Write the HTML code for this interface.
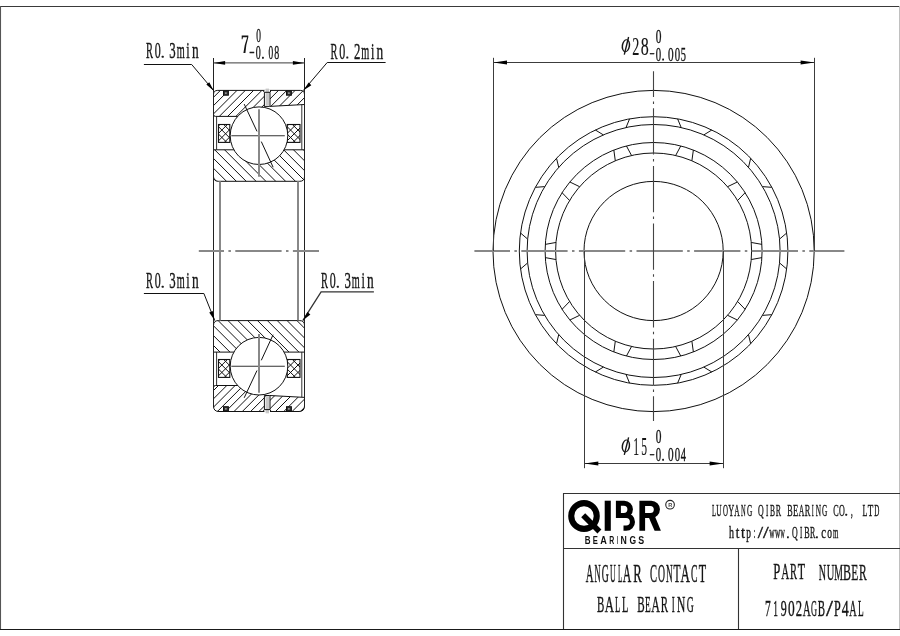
<!DOCTYPE html>
<html><head><meta charset="utf-8"><style>html,body{margin:0;padding:0;background:#fff;overflow:hidden}svg{display:block;will-change:transform}</style></head>
<body><svg width="900" height="636" viewBox="0 0 900 636">
<defs><clipPath id="cot"><path d="M213.5 94.60000000000001Q213.5 90.4 217.7 90.4H300.3Q304.5 90.4 304.5 94.60000000000001V104.5L269.8 106.4H264.4V116.4H215.5Q213.5 116.4 213.5 114.4Z"/></clipPath><clipPath id="cit"><path d="M213.5 149.8H304.5V176.5Q304.5 181.3 299.7 181.3H218.3Q213.5 181.3 213.5 176.5Z"/></clipPath><clipPath id="cgt218"><rect x="218.5" y="124.5" width="11.300000000000011" height="17.900000000000006"/></clipPath><clipPath id="cgt287"><rect x="287.2" y="124.5" width="12.800000000000011" height="17.900000000000006"/></clipPath><clipPath id="cob"><path d="M213.5 406.0Q213.5 411.5 219.0 411.5H299.0Q304.5 411.5 304.5 406.0V397.4L269.8 395.5H264.4V385.5H215.5Q213.5 385.5 213.5 387.5Z"/></clipPath><clipPath id="cib"><path d="M213.5 352.09999999999997H304.5V325.4Q304.5 320.59999999999997 299.7 320.59999999999997H218.3Q213.5 320.59999999999997 213.5 325.4Z"/></clipPath><clipPath id="cgb218"><rect x="218.5" y="359.5" width="11.300000000000011" height="17.899999999999977"/></clipPath><clipPath id="cgb287"><rect x="287.2" y="359.5" width="12.800000000000011" height="17.899999999999977"/></clipPath></defs>
<rect width="900" height="636" fill="#fff"/>
<line x1="0" y1="6.5" x2="900" y2="6.5" stroke="#3a3a3a" stroke-width="1.1"/>
<line x1="0.5" y1="6" x2="0.5" y2="630" stroke="#555" stroke-width="1.1"/>
<line x1="899.5" y1="6" x2="899.5" y2="630" stroke="#c0c0c0" stroke-width="1"/>
<line x1="0" y1="629.5" x2="900" y2="629.5" stroke="#1a1a1a" stroke-width="1.2"/>
<circle cx="653.6" cy="251.0" r="160.6" fill="none" stroke="#111" stroke-width="1"/>
<circle cx="653.6" cy="251.0" r="134.3" fill="none" stroke="#111" stroke-width="1"/>
<circle cx="653.6" cy="251.0" r="126.5" fill="none" stroke="#111" stroke-width="1"/>
<circle cx="653.6" cy="251.0" r="108.5" fill="none" stroke="#111" stroke-width="1"/>
<circle cx="653.6" cy="251.0" r="98.0" fill="none" stroke="#111" stroke-width="1"/>
<circle cx="653.6" cy="251.0" r="69.6" fill="none" stroke="#111" stroke-width="1"/>
<path d="M629.59 118.86L626.00 127.55M626.43 145.96L631.55 155.51M677.61 118.86L681.20 127.55M680.77 145.96L675.65 155.51M711.84 129.99L703.84 134.90M693.37 150.05L691.89 160.79M750.69 158.21L748.49 167.34M737.32 181.99L727.56 186.71M771.85 187.33L762.48 186.61M745.11 192.70L737.60 200.53M786.69 233.01L779.54 239.10M761.90 244.38L751.23 242.46M786.69 268.99L779.54 262.90M761.90 257.62L751.23 259.54M771.85 314.67L762.48 315.39M745.11 309.30L737.60 301.47M750.69 343.79L748.49 334.66M737.32 320.01L727.56 315.29M711.84 372.01L703.84 367.10M693.37 351.95L691.89 341.21M677.61 383.14L681.20 374.45M680.77 356.04L675.65 346.49M629.59 383.14L626.00 374.45M626.43 356.04L631.55 346.49M595.36 372.01L603.36 367.10M613.83 351.95L615.31 341.21M556.51 343.79L558.71 334.66M569.88 320.01L579.64 315.29M535.35 314.67L544.72 315.39M562.09 309.30L569.60 301.47M520.51 268.99L527.66 262.90M545.30 257.62L555.97 259.54M520.51 233.01L527.66 239.10M545.30 244.38L555.97 242.46M535.35 187.33L544.72 186.61M562.09 192.70L569.60 200.53M556.51 158.21L558.71 167.34M569.88 181.99L579.64 186.71M595.36 129.99L603.36 134.90M613.83 150.05L615.31 160.79" fill="none" stroke="#111" stroke-width="1"/>
<line x1="474.4" y1="251" x2="844.4" y2="251" stroke="#888" stroke-width="2" stroke-dasharray="46.3 4.4 2.5 4.4" stroke-dashoffset="10.7"/>
<line x1="653.5" y1="71.3" x2="653.5" y2="421" stroke="#444" stroke-width="1.1" stroke-dasharray="46.3 4.4 2.5 4.4" stroke-dashoffset="20.6"/>
<path d="M493.5 57.8V251M814.5 57.8V251M493.5 62.5H814.5" fill="none" stroke="#3c3c3c" stroke-width="1"/>
<path d="M493.50 62.50L507.00 64.40L507.00 60.60Z" fill="#000"/>
<path d="M814.50 62.50L800.60 60.60L800.60 64.40Z" fill="#000"/>
<path d="M584.5 251V468.2M723.5 251V468.2M584.5 463.5H723.5" fill="none" stroke="#3c3c3c" stroke-width="1"/>
<path d="M584.50 463.50L598.30 465.40L598.30 461.60Z" fill="#000"/>
<path d="M723.50 463.50L709.60 461.60L709.60 465.40Z" fill="#000"/>
<path d="M216.6 116.4V149.8M301.8 104.7V149.8" fill="none" stroke="#333" stroke-width="1"/>
<rect x="218.5" y="124.5" width="11.300000000000011" height="17.900000000000006" fill="#fff"/>
<path d="M192.70 144.40L214.60 122.50M200.10 144.40L222.00 122.50M207.50 144.40L229.40 122.50M214.90 144.40L236.80 122.50M222.30 144.40L244.20 122.50M229.70 144.40L251.60 122.50" clip-path="url(#cgt218)" fill="none" stroke="#111" stroke-width="1.0"/>
<path d="M192.10 122.50L214.00 144.40M199.50 122.50L221.40 144.40M206.90 122.50L228.80 144.40M214.30 122.50L236.20 144.40M221.70 122.50L243.60 144.40M229.10 122.50L251.00 144.40" clip-path="url(#cgt218)" fill="none" stroke="#111" stroke-width="1.0"/>
<rect x="218.5" y="124.5" width="11.300000000000011" height="17.900000000000006" fill="none" stroke="#111" stroke-width="1.1"/>
<rect x="287.2" y="124.5" width="12.800000000000011" height="17.900000000000006" fill="#fff"/>
<path d="M261.40 144.40L283.30 122.50M268.80 144.40L290.70 122.50M276.20 144.40L298.10 122.50M283.60 144.40L305.50 122.50M291.00 144.40L312.90 122.50M298.40 144.40L320.30 122.50" clip-path="url(#cgt287)" fill="none" stroke="#111" stroke-width="1.0"/>
<path d="M260.80 122.50L282.70 144.40M268.20 122.50L290.10 144.40M275.60 122.50L297.50 144.40M283.00 122.50L304.90 144.40M290.40 122.50L312.30 144.40M297.80 122.50L319.70 144.40M305.20 122.50L327.10 144.40" clip-path="url(#cgt287)" fill="none" stroke="#111" stroke-width="1.0"/>
<rect x="287.2" y="124.5" width="12.800000000000011" height="17.900000000000006" fill="none" stroke="#111" stroke-width="1.1"/>
<path d="M213.5 94.60000000000001Q213.5 90.4 217.7 90.4H300.3Q304.5 90.4 304.5 94.60000000000001V104.5L269.8 106.4H264.4V116.4H215.5Q213.5 116.4 213.5 114.4Z" fill="#fff"/>
<path d="M174.20 120.00L208.20 86.00M182.50 120.00L216.50 86.00M190.80 120.00L224.80 86.00M199.10 120.00L233.10 86.00M207.40 120.00L241.40 86.00M215.70 120.00L249.70 86.00M224.00 120.00L258.00 86.00M232.30 120.00L266.30 86.00M240.60 120.00L274.60 86.00M248.90 120.00L282.90 86.00M257.20 120.00L291.20 86.00M265.50 120.00L299.50 86.00M273.80 120.00L307.80 86.00M282.10 120.00L316.10 86.00M290.40 120.00L324.40 86.00M298.70 120.00L332.70 86.00M307.00 120.00L341.00 86.00" clip-path="url(#cot)" fill="none" stroke="#111" stroke-width="1.0"/>
<path d="M213.5 94.60000000000001Q213.5 90.4 217.7 90.4H300.3Q304.5 90.4 304.5 94.60000000000001V104.5L269.8 106.4H264.4V116.4H215.5Q213.5 116.4 213.5 114.4Z" fill="none" stroke="#111" stroke-width="1"/>
<path d="M213.5 149.8H304.5V176.5Q304.5 181.3 299.7 181.3H218.3Q213.5 181.3 213.5 176.5Z" fill="#fff"/>
<path d="M171.50 146.00L210.50 185.00M181.35 146.00L220.35 185.00M191.20 146.00L230.20 185.00M201.05 146.00L240.05 185.00M210.90 146.00L249.90 185.00M220.75 146.00L259.75 185.00M230.60 146.00L269.60 185.00M240.45 146.00L279.45 185.00M250.30 146.00L289.30 185.00M260.15 146.00L299.15 185.00M270.00 146.00L309.00 185.00M279.85 146.00L318.85 185.00M289.70 146.00L328.70 185.00M299.55 146.00L338.55 185.00M309.40 146.00L348.40 185.00" clip-path="url(#cit)" fill="none" stroke="#111" stroke-width="1.0"/>
<path d="M213.5 149.8H304.5V176.5Q304.5 181.3 299.7 181.3H218.3Q213.5 181.3 213.5 176.5Z" fill="none" stroke="#111" stroke-width="1"/>
<rect x="264.4" y="89.9" width="5.6" height="15.299999999999997" fill="#fff"/>
<rect x="265.6" y="88.6" width="3.4" height="17.10000000000001" fill="#c8c8c8"/>
<path d="M262.9 90.4L264.4 92.3H270L271.2 90.4M264.4 92.3V106M270 92.3V106" fill="none" stroke="#111" stroke-width="1"/>
<rect x="223.5" y="90.9" width="4.9" height="4.299999999999997" fill="#333" stroke="#111" stroke-width="1"/>
<circle cx="225.9" cy="93.05000000000001" r="0.9" fill="#aaa"/>
<rect x="286.5" y="90.9" width="4.9" height="4.299999999999997" fill="#333" stroke="#111" stroke-width="1"/>
<circle cx="288.9" cy="93.05000000000001" r="0.9" fill="#aaa"/>
<circle cx="259.0" cy="135.7" r="28.8" fill="#fff" stroke="#111" stroke-width="1"/>
<path d="M231.3 135.7H284.8" stroke="#333" stroke-width="1.1"/>
<path d="M259 109.2V176.8" stroke="#888" stroke-width="2"/>
<path d="M244.2 104.1L257 131.4M261.3 141.6L273.1 167.2" stroke="#111" stroke-width="1"/>
<path d="M216.6 385.5V352.09999999999997M301.8 397.2V352.09999999999997" fill="none" stroke="#333" stroke-width="1"/>
<rect x="218.5" y="359.5" width="11.300000000000011" height="17.899999999999977" fill="#fff"/>
<path d="M192.70 379.40L214.60 357.50M200.10 379.40L222.00 357.50M207.50 379.40L229.40 357.50M214.90 379.40L236.80 357.50M222.30 379.40L244.20 357.50M229.70 379.40L251.60 357.50" clip-path="url(#cgb218)" fill="none" stroke="#111" stroke-width="1.0"/>
<path d="M192.10 357.50L214.00 379.40M199.50 357.50L221.40 379.40M206.90 357.50L228.80 379.40M214.30 357.50L236.20 379.40M221.70 357.50L243.60 379.40M229.10 357.50L251.00 379.40" clip-path="url(#cgb218)" fill="none" stroke="#111" stroke-width="1.0"/>
<rect x="218.5" y="359.5" width="11.300000000000011" height="17.899999999999977" fill="none" stroke="#111" stroke-width="1.1"/>
<rect x="287.2" y="359.5" width="12.800000000000011" height="17.899999999999977" fill="#fff"/>
<path d="M261.40 379.40L283.30 357.50M268.80 379.40L290.70 357.50M276.20 379.40L298.10 357.50M283.60 379.40L305.50 357.50M291.00 379.40L312.90 357.50M298.40 379.40L320.30 357.50" clip-path="url(#cgb287)" fill="none" stroke="#111" stroke-width="1.0"/>
<path d="M260.80 357.50L282.70 379.40M268.20 357.50L290.10 379.40M275.60 357.50L297.50 379.40M283.00 357.50L304.90 379.40M290.40 357.50L312.30 379.40M297.80 357.50L319.70 379.40M305.20 357.50L327.10 379.40" clip-path="url(#cgb287)" fill="none" stroke="#111" stroke-width="1.0"/>
<rect x="287.2" y="359.5" width="12.800000000000011" height="17.899999999999977" fill="none" stroke="#111" stroke-width="1.1"/>
<path d="M213.5 406.0Q213.5 411.5 219.0 411.5H299.0Q304.5 411.5 304.5 406.0V397.4L269.8 395.5H264.4V385.5H215.5Q213.5 385.5 213.5 387.5Z" fill="#fff"/>
<path d="M179.80 415.90L213.80 381.90M188.10 415.90L222.10 381.90M196.40 415.90L230.40 381.90M204.70 415.90L238.70 381.90M213.00 415.90L247.00 381.90M221.30 415.90L255.30 381.90M229.60 415.90L263.60 381.90M237.90 415.90L271.90 381.90M246.20 415.90L280.20 381.90M254.50 415.90L288.50 381.90M262.80 415.90L296.80 381.90M271.10 415.90L305.10 381.90M279.40 415.90L313.40 381.90M287.70 415.90L321.70 381.90M296.00 415.90L330.00 381.90M304.30 415.90L338.30 381.90" clip-path="url(#cob)" fill="none" stroke="#111" stroke-width="1.0"/>
<path d="M213.5 406.0Q213.5 411.5 219.0 411.5H299.0Q304.5 411.5 304.5 406.0V397.4L269.8 395.5H264.4V385.5H215.5Q213.5 385.5 213.5 387.5Z" fill="none" stroke="#111" stroke-width="1"/>
<path d="M213.5 352.09999999999997H304.5V325.4Q304.5 320.59999999999997 299.7 320.59999999999997H218.3Q213.5 320.59999999999997 213.5 325.4Z" fill="#fff"/>
<path d="M175.05 316.90L214.05 355.90M184.90 316.90L223.90 355.90M194.75 316.90L233.75 355.90M204.60 316.90L243.60 355.90M214.45 316.90L253.45 355.90M224.30 316.90L263.30 355.90M234.15 316.90L273.15 355.90M244.00 316.90L283.00 355.90M253.85 316.90L292.85 355.90M263.70 316.90L302.70 355.90M273.55 316.90L312.55 355.90M283.40 316.90L322.40 355.90M293.25 316.90L332.25 355.90M303.10 316.90L342.10 355.90" clip-path="url(#cib)" fill="none" stroke="#111" stroke-width="1.0"/>
<path d="M213.5 352.09999999999997H304.5V325.4Q304.5 320.59999999999997 299.7 320.59999999999997H218.3Q213.5 320.59999999999997 213.5 325.4Z" fill="none" stroke="#111" stroke-width="1"/>
<rect x="264.4" y="396.7" width="5.6" height="15.300000000000011" fill="#fff"/>
<rect x="265.6" y="396.2" width="3.4" height="17.099999999999966" fill="#c8c8c8"/>
<path d="M262.9 411.5L264.4 409.59999999999997H270L271.2 411.5M264.4 409.59999999999997V395.9M270 409.59999999999997V395.9" fill="none" stroke="#111" stroke-width="1"/>
<rect x="223.5" y="406.7" width="4.9" height="4.300000000000011" fill="#333" stroke="#111" stroke-width="1"/>
<circle cx="225.9" cy="408.85" r="0.9" fill="#aaa"/>
<rect x="286.5" y="406.7" width="4.9" height="4.300000000000011" fill="#333" stroke="#111" stroke-width="1"/>
<circle cx="288.9" cy="408.85" r="0.9" fill="#aaa"/>
<circle cx="259.0" cy="366.2" r="28.8" fill="#fff" stroke="#111" stroke-width="1"/>
<path d="M231.3 366.2H284.8" stroke="#333" stroke-width="1.1"/>
<path d="M259 333.9V392.7" stroke="#888" stroke-width="2"/>
<path d="M244.2 397.79999999999995L257 370.5M261.3 360.29999999999995L273.1 334.7" stroke="#111" stroke-width="1"/>
<path d="M213.5 58V405.8M304.5 58V405.8" fill="none" stroke="#222" stroke-width="1"/>
<path d="M220 181.3V320.59999999999997M298 181.3V320.59999999999997" fill="none" stroke="#888" stroke-width="2"/>
<line x1="198.8" y1="251" x2="319" y2="251" stroke="#888" stroke-width="2" stroke-dasharray="46.3 4.4 2.5 4.4" stroke-dashoffset="21.1"/>
<path d="M213.5 62.9H304.5" stroke="#3c3c3c" stroke-width="1"/>
<path d="M213.50 62.90L225.10 64.80L225.10 61.00Z" fill="#000"/>
<path d="M304.50 62.90L292.90 61.00L292.90 64.80Z" fill="#000"/>
<path d="M143.9 64.5H191.7L213.9 90.9M385.6 62.5H327.2L303.3 90.6M143.9 293.5H203.9L214.7 320.6" fill="none" stroke="#111" stroke-width="1"/>
<path d="M373.9 291.9H321.1L302.8 320.6" fill="none" stroke="#333" stroke-width="1.3"/>
<path d="M213.90 90.90L209.27 82.20L206.33 84.60Z" fill="#000"/>
<path d="M303.30 90.60L311.34 85.24L308.66 82.56Z" fill="#000"/>
<path d="M214.70 320.60L212.75 310.97L209.25 312.43Z" fill="#000"/>
<path d="M302.80 320.60L310.36 314.52L307.44 312.08Z" fill="#000"/>
<path d="M563.5 629V493.5H900M563.5 548.5H900M738.5 548.5V629" fill="none" stroke="#333" stroke-width="1.1"/>
<text transform="translate(146.00 57.70) scale(0.437 1)" font-family="Liberation Serif" font-weight="normal" font-size="24.00" fill="#151515" stroke="#151515" stroke-width="0.4">R</text><text transform="translate(154.70 57.70) scale(0.500 1)" font-family="Liberation Serif" font-weight="normal" font-size="24.00" fill="#151515" stroke="#151515" stroke-width="0.4">0</text><rect x="161.70" y="55.70" width="2.00" height="2.0" rx="0.5" fill="#1a1a1a"/><text transform="translate(169.30 57.70) scale(0.533 1)" font-family="Liberation Serif" font-weight="normal" font-size="24.00" fill="#151515" stroke="#151515" stroke-width="0.4">3</text><text transform="translate(176.70 57.70) scale(0.428 1)" font-family="Liberation Serif" font-weight="normal" font-size="24.00" fill="#151515" stroke="#151515" stroke-width="0.4">m</text><text transform="translate(186.30 57.70) scale(0.510 1)" font-family="Liberation Serif" font-weight="normal" font-size="24.00" fill="#151515" stroke="#151515" stroke-width="0.4">i</text><text transform="translate(192.00 57.70) scale(0.558 1)" font-family="Liberation Serif" font-weight="normal" font-size="24.00" fill="#151515" stroke="#151515" stroke-width="0.4">n</text>
<text transform="translate(330.60 58.60) scale(0.437 1)" font-family="Liberation Serif" font-weight="normal" font-size="24.00" fill="#151515" stroke="#151515" stroke-width="0.4">R</text><text transform="translate(339.30 58.60) scale(0.500 1)" font-family="Liberation Serif" font-weight="normal" font-size="24.00" fill="#151515" stroke="#151515" stroke-width="0.4">0</text><rect x="346.30" y="56.60" width="2.00" height="2.0" rx="0.5" fill="#1a1a1a"/><text transform="translate(353.90 58.60) scale(0.533 1)" font-family="Liberation Serif" font-weight="normal" font-size="24.00" fill="#151515" stroke="#151515" stroke-width="0.4">2</text><text transform="translate(361.30 58.60) scale(0.428 1)" font-family="Liberation Serif" font-weight="normal" font-size="24.00" fill="#151515" stroke="#151515" stroke-width="0.4">m</text><text transform="translate(370.90 58.60) scale(0.510 1)" font-family="Liberation Serif" font-weight="normal" font-size="24.00" fill="#151515" stroke="#151515" stroke-width="0.4">i</text><text transform="translate(376.60 58.60) scale(0.558 1)" font-family="Liberation Serif" font-weight="normal" font-size="24.00" fill="#151515" stroke="#151515" stroke-width="0.4">n</text>
<text transform="translate(146.00 287.80) scale(0.437 1)" font-family="Liberation Serif" font-weight="normal" font-size="24.00" fill="#151515" stroke="#151515" stroke-width="0.4">R</text><text transform="translate(154.70 287.80) scale(0.500 1)" font-family="Liberation Serif" font-weight="normal" font-size="24.00" fill="#151515" stroke="#151515" stroke-width="0.4">0</text><rect x="161.70" y="285.80" width="2.00" height="2.0" rx="0.5" fill="#1a1a1a"/><text transform="translate(169.30 287.80) scale(0.533 1)" font-family="Liberation Serif" font-weight="normal" font-size="24.00" fill="#151515" stroke="#151515" stroke-width="0.4">3</text><text transform="translate(176.70 287.80) scale(0.428 1)" font-family="Liberation Serif" font-weight="normal" font-size="24.00" fill="#151515" stroke="#151515" stroke-width="0.4">m</text><text transform="translate(186.30 287.80) scale(0.510 1)" font-family="Liberation Serif" font-weight="normal" font-size="24.00" fill="#151515" stroke="#151515" stroke-width="0.4">i</text><text transform="translate(192.00 287.80) scale(0.558 1)" font-family="Liberation Serif" font-weight="normal" font-size="24.00" fill="#151515" stroke="#151515" stroke-width="0.4">n</text>
<text transform="translate(321.10 287.80) scale(0.437 1)" font-family="Liberation Serif" font-weight="normal" font-size="24.00" fill="#151515" stroke="#151515" stroke-width="0.4">R</text><text transform="translate(329.80 287.80) scale(0.500 1)" font-family="Liberation Serif" font-weight="normal" font-size="24.00" fill="#151515" stroke="#151515" stroke-width="0.4">0</text><rect x="336.80" y="285.80" width="2.00" height="2.0" rx="0.5" fill="#1a1a1a"/><text transform="translate(344.40 287.80) scale(0.533 1)" font-family="Liberation Serif" font-weight="normal" font-size="24.00" fill="#151515" stroke="#151515" stroke-width="0.4">3</text><text transform="translate(351.80 287.80) scale(0.428 1)" font-family="Liberation Serif" font-weight="normal" font-size="24.00" fill="#151515" stroke="#151515" stroke-width="0.4">m</text><text transform="translate(361.40 287.80) scale(0.510 1)" font-family="Liberation Serif" font-weight="normal" font-size="24.00" fill="#151515" stroke="#151515" stroke-width="0.4">i</text><text transform="translate(367.10 287.80) scale(0.558 1)" font-family="Liberation Serif" font-weight="normal" font-size="24.00" fill="#151515" stroke="#151515" stroke-width="0.4">n</text>
<path d="M241.7 35.5H248.3V37.2Q246.0 44 245.4 53H243.4Q244.4 44.5 247.2 37.3H242.9L242.5 39.2H241.7Z" fill="#151515"/>
<text transform="translate(256.30 41.60) scale(0.508 1)" font-family="Liberation Serif" font-weight="normal" font-size="18.50" fill="#151515" stroke="#151515" stroke-width="0.4">0</text>
<text transform="translate(249.30 59.20) scale(0.495 1)" font-family="Liberation Serif" font-weight="normal" font-size="19.00" fill="#151515" stroke="#151515" stroke-width="0.4">−</text>
<text transform="translate(255.70 58.80) scale(0.526 1)" font-family="Liberation Serif" font-weight="normal" font-size="19.00" fill="#151515" stroke="#151515" stroke-width="0.4">0</text><rect x="262.00" y="56.80" width="1.80" height="2.0" rx="0.5" fill="#1a1a1a"/><text transform="translate(268.50 58.80) scale(0.495 1)" font-family="Liberation Serif" font-weight="normal" font-size="19.00" fill="#151515" stroke="#151515" stroke-width="0.4">0</text><text transform="translate(274.30 58.80) scale(0.526 1)" font-family="Liberation Serif" font-weight="normal" font-size="19.00" fill="#151515" stroke="#151515" stroke-width="0.4">8</text>
<g transform="rotate(9 625.90 45.70)"><ellipse cx="625.90" cy="45.70" rx="4.25" ry="6.55" fill="#151515"/><ellipse cx="625.90" cy="45.70" rx="2.75" ry="5.6" fill="#fff"/></g>
<path d="M628.60 37.00L624.30 54.60" stroke="#151515" stroke-width="1.4"/>
<text transform="translate(632.30 54.60) scale(0.568 1)" font-family="Liberation Serif" font-weight="normal" font-size="25.00" fill="#151515" stroke="#151515" stroke-width="0.15">2</text><text transform="translate(640.80 54.60) scale(0.640 1)" font-family="Liberation Serif" font-weight="normal" font-size="25.00" fill="#151515" stroke="#151515" stroke-width="0.15">8</text>
<text transform="translate(655.80 43.00) scale(0.606 1)" font-family="Liberation Serif" font-weight="normal" font-size="18.80" fill="#151515" stroke="#151515" stroke-width="0.4">0</text>
<text transform="translate(649.50 60.30) scale(0.489 1)" font-family="Liberation Serif" font-weight="normal" font-size="18.50" fill="#151515" stroke="#151515" stroke-width="0.4">−</text>
<text transform="translate(655.80 60.50) scale(0.548 1)" font-family="Liberation Serif" font-weight="normal" font-size="19.70" fill="#151515" stroke="#151515" stroke-width="0.4">0</text><rect x="662.20" y="58.50" width="1.80" height="2.0" rx="0.5" fill="#1a1a1a"/><text transform="translate(668.00 60.50) scale(0.569 1)" font-family="Liberation Serif" font-weight="normal" font-size="19.70" fill="#151515" stroke="#151515" stroke-width="0.4">0</text><text transform="translate(674.80 60.50) scale(0.548 1)" font-family="Liberation Serif" font-weight="normal" font-size="19.70" fill="#151515" stroke="#151515" stroke-width="0.4">0</text><text transform="translate(680.70 60.50) scale(0.528 1)" font-family="Liberation Serif" font-weight="normal" font-size="19.70" fill="#151515" stroke="#151515" stroke-width="0.4">5</text>
<g transform="rotate(9 625.90 446.00)"><ellipse cx="625.90" cy="446.00" rx="4.25" ry="6.55" fill="#151515"/><ellipse cx="625.90" cy="446.00" rx="2.75" ry="5.6" fill="#fff"/></g>
<path d="M628.60 437.30L624.30 454.90" stroke="#151515" stroke-width="1.4"/>
<text transform="translate(633.20 454.90) scale(0.464 1)" font-family="Liberation Serif" font-weight="normal" font-size="25.00" fill="#151515" stroke="#151515" stroke-width="0.15">1</text><text transform="translate(641.20 454.90) scale(0.464 1)" font-family="Liberation Serif" font-weight="normal" font-size="25.00" fill="#151515" stroke="#151515" stroke-width="0.15">5</text>
<text transform="translate(655.80 443.30) scale(0.606 1)" font-family="Liberation Serif" font-weight="normal" font-size="18.80" fill="#151515" stroke="#151515" stroke-width="0.4">0</text>
<text transform="translate(649.50 460.60) scale(0.489 1)" font-family="Liberation Serif" font-weight="normal" font-size="18.50" fill="#151515" stroke="#151515" stroke-width="0.4">−</text>
<text transform="translate(655.80 460.80) scale(0.548 1)" font-family="Liberation Serif" font-weight="normal" font-size="19.70" fill="#151515" stroke="#151515" stroke-width="0.4">0</text><rect x="662.20" y="458.80" width="1.80" height="2.0" rx="0.5" fill="#1a1a1a"/><text transform="translate(668.00 460.80) scale(0.569 1)" font-family="Liberation Serif" font-weight="normal" font-size="19.70" fill="#151515" stroke="#151515" stroke-width="0.4">0</text><text transform="translate(674.80 460.80) scale(0.548 1)" font-family="Liberation Serif" font-weight="normal" font-size="19.70" fill="#151515" stroke="#151515" stroke-width="0.4">0</text><text transform="translate(680.70 460.80) scale(0.528 1)" font-family="Liberation Serif" font-weight="normal" font-size="19.70" fill="#151515" stroke="#151515" stroke-width="0.4">4</text>
<text transform="translate(712.00 515.80) scale(0.370 1)" font-family="Liberation Serif" font-weight="normal" font-size="17.70" fill="#151515" stroke="#151515" stroke-width="0.4">L</text><text transform="translate(716.30 515.80) scale(0.423 1)" font-family="Liberation Serif" font-weight="normal" font-size="17.70" fill="#151515" stroke="#151515" stroke-width="0.4">U</text><text transform="translate(723.00 515.80) scale(0.391 1)" font-family="Liberation Serif" font-weight="normal" font-size="17.70" fill="#151515" stroke="#151515" stroke-width="0.4">O</text><text transform="translate(728.30 515.80) scale(0.470 1)" font-family="Liberation Serif" font-weight="normal" font-size="17.70" fill="#151515" stroke="#151515" stroke-width="0.4">Y</text><text transform="translate(734.30 515.80) scale(0.423 1)" font-family="Liberation Serif" font-weight="normal" font-size="17.70" fill="#151515" stroke="#151515" stroke-width="0.4">A</text><text transform="translate(741.00 515.80) scale(0.368 1)" font-family="Liberation Serif" font-weight="normal" font-size="17.70" fill="#151515" stroke="#151515" stroke-width="0.4">N</text><text transform="translate(747.00 515.80) scale(0.415 1)" font-family="Liberation Serif" font-weight="normal" font-size="17.70" fill="#151515" stroke="#151515" stroke-width="0.4">G</text>
<text transform="translate(758.00 515.80) scale(0.446 1)" font-family="Liberation Serif" font-weight="normal" font-size="17.70" fill="#151515" stroke="#151515" stroke-width="0.4">Q</text><text transform="translate(766.00 515.80) scale(0.390 1)" font-family="Liberation Serif" font-weight="normal" font-size="17.70" fill="#151515" stroke="#151515" stroke-width="0.4">I</text><text transform="translate(770.00 515.80) scale(0.424 1)" font-family="Liberation Serif" font-weight="normal" font-size="17.70" fill="#151515" stroke="#151515" stroke-width="0.4">B</text><text transform="translate(775.70 515.80) scale(0.449 1)" font-family="Liberation Serif" font-weight="normal" font-size="17.70" fill="#151515" stroke="#151515" stroke-width="0.4">R</text>
<text transform="translate(787.30 515.80) scale(0.457 1)" font-family="Liberation Serif" font-weight="normal" font-size="17.70" fill="#151515" stroke="#151515" stroke-width="0.4">B</text><text transform="translate(793.00 515.80) scale(0.490 1)" font-family="Liberation Serif" font-weight="normal" font-size="17.70" fill="#151515" stroke="#151515" stroke-width="0.4">E</text><text transform="translate(798.70 515.80) scale(0.438 1)" font-family="Liberation Serif" font-weight="normal" font-size="17.70" fill="#151515" stroke="#151515" stroke-width="0.4">A</text><text transform="translate(804.70 515.80) scale(0.474 1)" font-family="Liberation Serif" font-weight="normal" font-size="17.70" fill="#151515" stroke="#151515" stroke-width="0.4">R</text><text transform="translate(811.70 515.80) scale(0.339 1)" font-family="Liberation Serif" font-weight="normal" font-size="17.70" fill="#151515" stroke="#151515" stroke-width="0.4">I</text><text transform="translate(815.70 515.80) scale(0.415 1)" font-family="Liberation Serif" font-weight="normal" font-size="17.70" fill="#151515" stroke="#151515" stroke-width="0.4">N</text><text transform="translate(822.00 515.80) scale(0.415 1)" font-family="Liberation Serif" font-weight="normal" font-size="17.70" fill="#151515" stroke="#151515" stroke-width="0.4">G</text>
<text transform="translate(833.30 515.80) scale(0.457 1)" font-family="Liberation Serif" font-weight="normal" font-size="17.70" fill="#151515" stroke="#151515" stroke-width="0.4">C</text><text transform="translate(838.90 515.80) scale(0.454 1)" font-family="Liberation Serif" font-weight="normal" font-size="17.70" fill="#151515" stroke="#151515" stroke-width="0.4">O</text><rect x="845.30" y="513.80" width="1.80" height="2.0" rx="0.5" fill="#1a1a1a"/><text transform="translate(851.00 515.80) scale(0.384 1)" font-family="Liberation Serif" font-weight="normal" font-size="17.70" fill="#151515" stroke="#151515" stroke-width="0.6">,</text>
<text transform="translate(862.40 515.80) scale(0.453 1)" font-family="Liberation Serif" font-weight="normal" font-size="17.70" fill="#151515" stroke="#151515" stroke-width="0.4">L</text><text transform="translate(867.80 515.80) scale(0.509 1)" font-family="Liberation Serif" font-weight="normal" font-size="17.70" fill="#151515" stroke="#151515" stroke-width="0.4">T</text><text transform="translate(874.20 515.80) scale(0.399 1)" font-family="Liberation Serif" font-weight="normal" font-size="17.70" fill="#151515" stroke="#151515" stroke-width="0.4">D</text>
<text transform="translate(729.00 538.30) scale(0.606 1)" font-family="Liberation Serif" font-weight="normal" font-size="16.50" fill="#151515" stroke="#151515" stroke-width="0.4">h</text><text transform="translate(735.70 538.30) scale(0.785 1)" font-family="Liberation Serif" font-weight="normal" font-size="16.50" fill="#151515" stroke="#151515" stroke-width="0.4">t</text><text transform="translate(741.00 538.30) scale(0.872 1)" font-family="Liberation Serif" font-weight="normal" font-size="16.50" fill="#151515" stroke="#151515" stroke-width="0.4">t</text><text transform="translate(746.30 538.30) scale(0.570 1)" font-family="Liberation Serif" font-weight="normal" font-size="16.50" fill="#151515" stroke="#151515" stroke-width="0.4">p</text><text transform="translate(753.70 538.30) scale(0.349 1)" font-family="Liberation Serif" font-weight="normal" font-size="16.50" fill="#151515" stroke="#151515" stroke-width="0.4">:</text><text transform="translate(757.70 538.30) scale(1.155 1)" font-family="Liberation Serif" font-weight="normal" font-size="16.50" fill="#151515" stroke="#151515" stroke-width="0.4">/</text><text transform="translate(763.00 538.30) scale(1.243 1)" font-family="Liberation Serif" font-weight="normal" font-size="16.50" fill="#151515" stroke="#151515" stroke-width="0.4">/</text><text transform="translate(769.30 538.30) scale(0.453 1)" font-family="Liberation Serif" font-weight="normal" font-size="16.50" fill="#151515" stroke="#151515" stroke-width="0.4">w</text><text transform="translate(775.00 538.30) scale(0.445 1)" font-family="Liberation Serif" font-weight="normal" font-size="16.50" fill="#151515" stroke="#151515" stroke-width="0.4">w</text><text transform="translate(780.50 538.30) scale(0.353 1)" font-family="Liberation Serif" font-weight="normal" font-size="16.50" fill="#151515" stroke="#151515" stroke-width="0.4">w</text><rect x="787.00" y="536.30" width="1.80" height="2.0" rx="0.5" fill="#1a1a1a"/><text transform="translate(792.00 538.30) scale(0.478 1)" font-family="Liberation Serif" font-weight="normal" font-size="16.50" fill="#151515" stroke="#151515" stroke-width="0.4">Q</text><text transform="translate(800.00 538.30) scale(0.419 1)" font-family="Liberation Serif" font-weight="normal" font-size="16.50" fill="#151515" stroke="#151515" stroke-width="0.4">I</text><text transform="translate(804.30 538.30) scale(0.491 1)" font-family="Liberation Serif" font-weight="normal" font-size="16.50" fill="#151515" stroke="#151515" stroke-width="0.4">B</text><text transform="translate(810.00 538.30) scale(0.482 1)" font-family="Liberation Serif" font-weight="normal" font-size="16.50" fill="#151515" stroke="#151515" stroke-width="0.4">R</text><rect x="816.00" y="536.30" width="1.80" height="2.0" rx="0.5" fill="#1a1a1a"/><text transform="translate(821.30 538.30) scale(0.642 1)" font-family="Liberation Serif" font-weight="normal" font-size="16.50" fill="#151515" stroke="#151515" stroke-width="0.4">c</text><text transform="translate(827.30 538.30) scale(0.570 1)" font-family="Liberation Serif" font-weight="normal" font-size="16.50" fill="#151515" stroke="#151515" stroke-width="0.4">o</text><text transform="translate(833.00 538.30) scale(0.413 1)" font-family="Liberation Serif" font-weight="normal" font-size="16.50" fill="#151515" stroke="#151515" stroke-width="0.4">m</text>
<text transform="translate(585.80 581.80) scale(0.443 1)" font-family="Liberation Serif" font-weight="normal" font-size="24.40" fill="#151515" stroke="#151515" stroke-width="0.4">A</text><text transform="translate(594.40 581.80) scale(0.352 1)" font-family="Liberation Serif" font-weight="normal" font-size="24.40" fill="#151515" stroke="#151515" stroke-width="0.4">N</text><text transform="translate(601.80 581.80) scale(0.397 1)" font-family="Liberation Serif" font-weight="normal" font-size="24.40" fill="#151515" stroke="#151515" stroke-width="0.4">G</text><text transform="translate(610.00 581.80) scale(0.329 1)" font-family="Liberation Serif" font-weight="normal" font-size="24.40" fill="#151515" stroke="#151515" stroke-width="0.4">U</text><text transform="translate(618.10 581.80) scale(0.288 1)" font-family="Liberation Serif" font-weight="normal" font-size="24.40" fill="#151515" stroke="#151515" stroke-width="0.4">L</text><text transform="translate(622.80 581.80) scale(0.482 1)" font-family="Liberation Serif" font-weight="normal" font-size="24.40" fill="#151515" stroke="#151515" stroke-width="0.4">A</text><text transform="translate(633.30 581.80) scale(0.522 1)" font-family="Liberation Serif" font-weight="normal" font-size="24.40" fill="#151515" stroke="#151515" stroke-width="0.4">R</text>
<text transform="translate(650.10 581.80) scale(0.430 1)" font-family="Liberation Serif" font-weight="normal" font-size="24.40" fill="#151515" stroke="#151515" stroke-width="0.4">C</text><text transform="translate(657.90 581.80) scale(0.397 1)" font-family="Liberation Serif" font-weight="normal" font-size="24.40" fill="#151515" stroke="#151515" stroke-width="0.4">O</text><text transform="translate(666.00 581.80) scale(0.380 1)" font-family="Liberation Serif" font-weight="normal" font-size="24.40" fill="#151515" stroke="#151515" stroke-width="0.4">N</text><text transform="translate(673.40 581.80) scale(0.470 1)" font-family="Liberation Serif" font-weight="normal" font-size="24.40" fill="#151515" stroke="#151515" stroke-width="0.4">T</text><text transform="translate(680.40 581.80) scale(0.534 1)" font-family="Liberation Serif" font-weight="normal" font-size="24.40" fill="#151515" stroke="#151515" stroke-width="0.4">A</text><text transform="translate(691.00 581.80) scale(0.399 1)" font-family="Liberation Serif" font-weight="normal" font-size="24.40" fill="#151515" stroke="#151515" stroke-width="0.4">C</text><text transform="translate(698.70 581.80) scale(0.496 1)" font-family="Liberation Serif" font-weight="normal" font-size="24.40" fill="#151515" stroke="#151515" stroke-width="0.4">T</text>
<text transform="translate(597.00 611.70) scale(0.456 1)" font-family="Liberation Serif" font-weight="normal" font-size="24.00" fill="#151515" stroke="#151515" stroke-width="0.4">B</text><text transform="translate(604.70 611.70) scale(0.537 1)" font-family="Liberation Serif" font-weight="normal" font-size="24.00" fill="#151515" stroke="#151515" stroke-width="0.4">A</text><text transform="translate(615.00 611.70) scale(0.361 1)" font-family="Liberation Serif" font-weight="normal" font-size="24.00" fill="#151515" stroke="#151515" stroke-width="0.4">L</text><text transform="translate(622.00 611.70) scale(0.430 1)" font-family="Liberation Serif" font-weight="normal" font-size="24.00" fill="#151515" stroke="#151515" stroke-width="0.4">L</text>
<text transform="translate(637.30 611.70) scale(0.462 1)" font-family="Liberation Serif" font-weight="normal" font-size="24.00" fill="#151515" stroke="#151515" stroke-width="0.4">B</text><text transform="translate(645.00 611.70) scale(0.389 1)" font-family="Liberation Serif" font-weight="normal" font-size="24.00" fill="#151515" stroke="#151515" stroke-width="0.4">E</text><text transform="translate(651.30 611.70) scale(0.502 1)" font-family="Liberation Serif" font-weight="normal" font-size="24.00" fill="#151515" stroke="#151515" stroke-width="0.4">A</text><text transform="translate(660.70 611.70) scale(0.456 1)" font-family="Liberation Serif" font-weight="normal" font-size="24.00" fill="#151515" stroke="#151515" stroke-width="0.4">R</text><text transform="translate(671.70 611.70) scale(0.375 1)" font-family="Liberation Serif" font-weight="normal" font-size="24.00" fill="#151515" stroke="#151515" stroke-width="0.4">I</text><text transform="translate(677.00 611.70) scale(0.479 1)" font-family="Liberation Serif" font-weight="normal" font-size="24.00" fill="#151515" stroke="#151515" stroke-width="0.4">N</text><text transform="translate(686.70 611.70) scale(0.404 1)" font-family="Liberation Serif" font-weight="normal" font-size="24.00" fill="#151515" stroke="#151515" stroke-width="0.4">G</text>
<text transform="translate(773.30 578.70) scale(0.536 1)" font-family="Liberation Serif" font-weight="normal" font-size="23.50" fill="#151515" stroke="#151515" stroke-width="0.4">P</text><text transform="translate(781.30 578.70) scale(0.472 1)" font-family="Liberation Serif" font-weight="normal" font-size="23.50" fill="#151515" stroke="#151515" stroke-width="0.4">A</text><text transform="translate(790.00 578.70) scale(0.447 1)" font-family="Liberation Serif" font-weight="normal" font-size="23.50" fill="#151515" stroke="#151515" stroke-width="0.4">R</text><text transform="translate(797.70 578.70) scale(0.508 1)" font-family="Liberation Serif" font-weight="normal" font-size="23.50" fill="#151515" stroke="#151515" stroke-width="0.4">T</text>
<text transform="translate(818.70 580.00) scale(0.421 1)" font-family="Liberation Serif" font-weight="normal" font-size="24.00" fill="#151515" stroke="#151515" stroke-width="0.4">N</text><text transform="translate(826.70 580.00) scale(0.439 1)" font-family="Liberation Serif" font-weight="normal" font-size="24.00" fill="#151515" stroke="#151515" stroke-width="0.4">U</text><text transform="translate(834.30 580.00) scale(0.408 1)" font-family="Liberation Serif" font-weight="normal" font-size="24.00" fill="#151515" stroke="#151515" stroke-width="0.4">M</text><text transform="translate(843.00 580.00) scale(0.500 1)" font-family="Liberation Serif" font-weight="normal" font-size="24.00" fill="#151515" stroke="#151515" stroke-width="0.4">B</text><text transform="translate(851.30 580.00) scale(0.477 1)" font-family="Liberation Serif" font-weight="normal" font-size="24.00" fill="#151515" stroke="#151515" stroke-width="0.4">E</text><text transform="translate(859.00 580.00) scale(0.481 1)" font-family="Liberation Serif" font-weight="normal" font-size="24.00" fill="#151515" stroke="#151515" stroke-width="0.4">R</text>
<text transform="translate(765.00 615.70) scale(0.500 1)" font-family="Liberation Serif" font-weight="normal" font-size="22.80" fill="#151515" stroke="#151515" stroke-width="0.4">7</text><text transform="translate(773.30 615.70) scale(0.412 1)" font-family="Liberation Serif" font-weight="normal" font-size="22.80" fill="#151515" stroke="#151515" stroke-width="0.4">1</text><text transform="translate(780.70 615.70) scale(0.526 1)" font-family="Liberation Serif" font-weight="normal" font-size="22.80" fill="#151515" stroke="#151515" stroke-width="0.4">9</text><text transform="translate(788.00 615.70) scale(0.588 1)" font-family="Liberation Serif" font-weight="normal" font-size="22.80" fill="#151515" stroke="#151515" stroke-width="0.4">0</text><text transform="translate(795.70 615.70) scale(0.553 1)" font-family="Liberation Serif" font-weight="normal" font-size="22.80" fill="#151515" stroke="#151515" stroke-width="0.4">2</text><text transform="translate(802.70 615.70) scale(0.486 1)" font-family="Liberation Serif" font-weight="normal" font-size="22.80" fill="#151515" stroke="#151515" stroke-width="0.4">A</text><text transform="translate(811.00 615.70) scale(0.364 1)" font-family="Liberation Serif" font-weight="normal" font-size="22.80" fill="#151515" stroke="#151515" stroke-width="0.4">G</text><text transform="translate(817.70 615.70) scale(0.480 1)" font-family="Liberation Serif" font-weight="normal" font-size="22.80" fill="#151515" stroke="#151515" stroke-width="0.4">B</text><text transform="translate(826.00 615.70) scale(1.104 1)" font-family="Liberation Serif" font-weight="normal" font-size="22.80" fill="#151515" stroke="#151515" stroke-width="0.4">/</text><text transform="translate(834.00 615.70) scale(0.529 1)" font-family="Liberation Serif" font-weight="normal" font-size="22.80" fill="#151515" stroke="#151515" stroke-width="0.4">P</text><text transform="translate(841.70 615.70) scale(0.614 1)" font-family="Liberation Serif" font-weight="normal" font-size="22.80" fill="#151515" stroke="#151515" stroke-width="0.4">4</text><text transform="translate(849.30 615.70) scale(0.450 1)" font-family="Liberation Serif" font-weight="normal" font-size="22.80" fill="#151515" stroke="#151515" stroke-width="0.4">A</text><text transform="translate(858.00 615.70) scale(0.409 1)" font-family="Liberation Serif" font-weight="normal" font-size="22.80" fill="#151515" stroke="#151515" stroke-width="0.4">L</text>
<path d="M584 500A15.8 16 0 1 1 584 532A15.8 16 0 1 1 584 500ZM584 506.2A9.7 9.8 0 1 0 584 525.8A9.7 9.8 0 1 0 584 506.2Z" fill="#000" fill-rule="evenodd"/><path d="M583.2 515.3L599.4 531.5" stroke="#000" stroke-width="5.6"/><rect x="604.7" y="500.7" width="6.1" height="30.1" fill="#000"/><path d="M615.9 500.7H624.3A8.65 8.65 0 0 1 624.3 518H615.9ZM620.9 505.7V513H623.75A3.65 3.65 0 0 0 623.75 505.7Z" fill="#000" fill-rule="evenodd"/><path d="M623.5 513H626.1A8.9 8.9 0 0 1 626.1 530.8H623.5V525.6H626.1A3.8 3.8 0 0 0 626.1 518H623.5Z" fill="#000"/><path d="M639.4 500.7H651.3A8.65 8.65 0 0 1 651.3 518H645.1V530.8H639.4ZM645.1 506V513H650.3A3.5 3.5 0 0 0 650.3 506Z" fill="#000" fill-rule="evenodd"/><path d="M648.6 517H655.2L660.9 530.8H654.6Z" fill="#000"/><circle cx="670.05" cy="504.7" r="4.3" fill="none" stroke="#222" stroke-width="1.1"/><text x="670.3" y="506.7" font-family="Liberation Sans" font-size="5.6" font-weight="bold" text-anchor="middle" fill="#444">R</text>
<text transform="translate(584.70 543.60) scale(0.772 1)" font-family="Liberation Sans" font-weight="bold" font-size="10.40" fill="#111" >B</text><text transform="translate(592.80 543.60) scale(0.735 1)" font-family="Liberation Sans" font-weight="bold" font-size="10.40" fill="#111" >E</text><text transform="translate(600.20 543.60) scale(0.879 1)" font-family="Liberation Sans" font-weight="bold" font-size="10.40" fill="#111" >A</text><text transform="translate(609.20 543.60) scale(0.666 1)" font-family="Liberation Sans" font-weight="bold" font-size="10.40" fill="#111" >R</text><text transform="translate(616.90 543.60) scale(0.415 1)" font-family="Liberation Sans" font-weight="bold" font-size="10.40" fill="#111" >I</text><text transform="translate(620.40 543.60) scale(0.839 1)" font-family="Liberation Sans" font-weight="bold" font-size="10.40" fill="#111" >N</text><text transform="translate(629.40 543.60) scale(0.816 1)" font-family="Liberation Sans" font-weight="bold" font-size="10.40" fill="#111" >G</text><text transform="translate(638.30 543.60) scale(0.851 1)" font-family="Liberation Sans" font-weight="bold" font-size="10.40" fill="#111" >S</text>
</svg></body></html>
